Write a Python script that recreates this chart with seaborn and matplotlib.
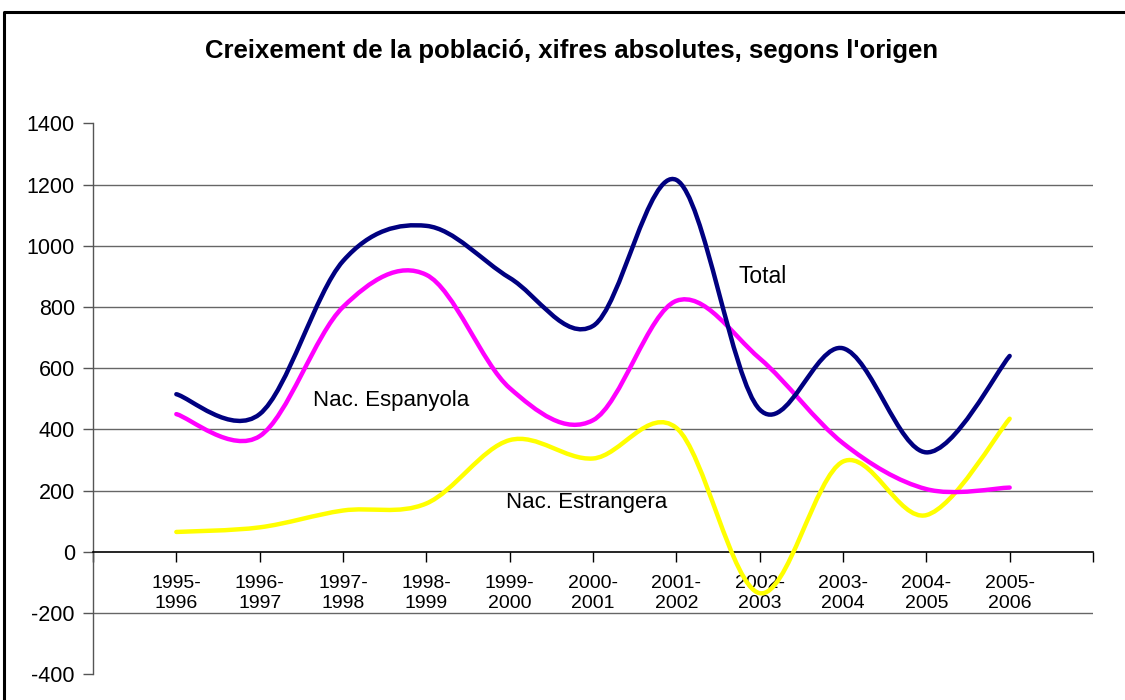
import numpy as np
import matplotlib
matplotlib.use("Agg")
import matplotlib.pyplot as plt
from matplotlib.path import Path
from matplotlib.patches import PathPatch
from matplotlib.lines import Line2D
import seaborn as sns

# data
periods = ["1995-\n1996", "1996-\n1997", "1997-\n1998", "1998-\n1999", "1999-\n2000",
           "2000-\n2001", "2001-\n2002", "2002-\n2003", "2003-\n2004", "2004-\n2005",
           "2005-\n2006"]
total = [515, 450, 950, 1065, 895, 738, 1215, 465, 665, 325, 640]
espanyola = [450, 378, 800, 905, 535, 430, 820, 632, 355, 205, 210]
estrangera = [65, 80, 135, 158, 365, 305, 405, -135, 295, 120, 435]

sns.set_style("white")
plt.rcParams['font.family'] = ['Liberation Sans', 'DejaVu Sans']
plt.rcParams['axes.unicode_minus'] = False
plt.rcParams['text.color'] = 'black'
plt.rcParams['xtick.color'] = 'black'
plt.rcParams['ytick.color'] = 'black'


def smooth_path(xs, ys):
    # excel-like smoothed line: cubic bezier through every point
    p = np.column_stack([xs, ys]).astype(float)
    ext = np.vstack([p[0], p, p[-1]])
    verts = [p[0]]
    codes = [Path.MOVETO]
    for i in range(len(p) - 1):
        p0, p1, p2, p3 = ext[i], ext[i + 1], ext[i + 2], ext[i + 3]
        verts += [p1 + (p2 - p0) / 6, p2 - (p3 - p1) / 6, p2]
        codes += [Path.CURVE4] * 3
    return Path(verts, codes)


fig = plt.figure(figsize=(11.25, 7), dpi=100)
ax = fig.add_axes([93 / 1125, 1 - 674.3 / 700, 1000 / 1125, 551 / 700])

x = np.arange(len(periods))
for vals, col in [(estrangera, "#FFFF00"), (espanyola, "#FF00FF"), (total, "#000080")]:
    ax.add_patch(PathPatch(smooth_path(x, vals), facecolor="none", edgecolor=col,
                           lw=3.2, capstyle="round", joinstyle="round", zorder=3))

ax.set_xlim(-1, 11)
ax.set_ylim(-400, 1400)
ax.set_yticks(range(-400, 1401, 200))
ax.set_xticks(range(-1, 12))
ax.set_xticklabels([""] + periods + [""], linespacing=1.5)
ax.tick_params(axis="y", labelsize=15.5, length=7, width=1, color="#555555", pad=6, left=True,
               labelcolor="black")
ax.tick_params(axis="x", labelsize=14, length=7, width=1, color="black", pad=10, bottom=True,
               labelcolor="black")

for v in [-200, 200, 400, 600, 800, 1000, 1200]:
    ax.axhline(v, color="#666666", lw=1, zorder=1)

for s in ["top", "right"]:
    ax.spines[s].set_visible(False)
ax.spines["left"].set_color("#555555")
ax.spines["left"].set_linewidth(1)
ax.spines["bottom"].set_position(("data", 0))
ax.spines["bottom"].set_color("black")
ax.spines["bottom"].set_linewidth(1.2)

ax.text(6.75, 900, "Total", fontsize=16.5, va="center", ha="left", color="black")
ax.text(1.64, 494, "Nac. Espanyola", fontsize=16, va="center", ha="left", color="black")
ax.text(3.96, 162, "Nac. Estrangera", fontsize=16, va="center", ha="left", color="black")

fig.text(572 / 1125, 1 - 51 / 700, "Creixement de la població, xifres absolutes, segons l'origen",
         fontsize=18.5, fontweight="bold", ha="center", va="center", color="black")

# outer chart frame (right and bottom are cropped in the reference)
fx, fy = 4 / 1125, 1 - 12 / 700
fig.add_artist(Line2D([fx, fx, 1.0], [0.0, fy, fy], transform=fig.transFigure,
                      color="black", lw=2.2))

fig.savefig("out.png", dpi=100)
